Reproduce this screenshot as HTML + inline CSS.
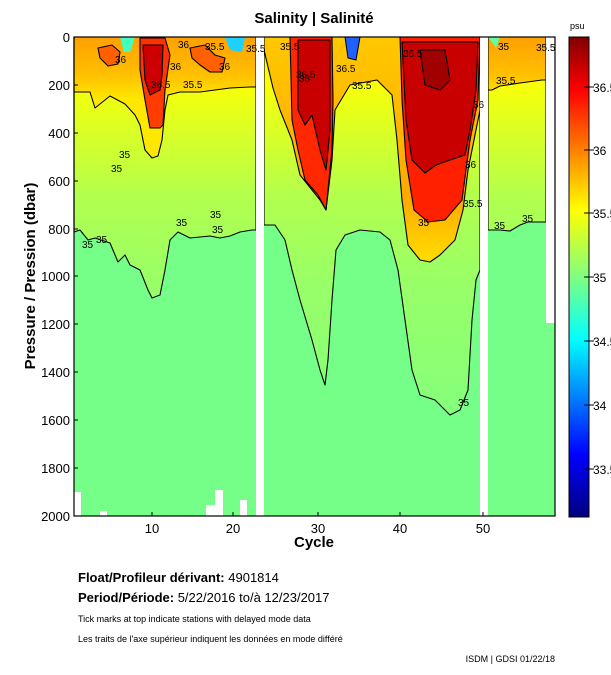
<!DOCTYPE html>
<html><head><meta charset="utf-8"><style>
body{margin:0;background:#fff;}
svg{display:block;font-family:"Liberation Sans",sans-serif;}
</style></head><body>
<svg width="611" height="675" viewBox="0 0 611 675" xmlns="http://www.w3.org/2000/svg">
<defs>
<linearGradient id="g35" gradientUnits="userSpaceOnUse" x1="0" y1="85" x2="0" y2="420">
<stop offset="0" stop-color="#f8ff08"/><stop offset="0.15" stop-color="#d8ff28"/><stop offset="0.35" stop-color="#b0ff50"/><stop offset="0.6" stop-color="#98ff68"/><stop offset="1" stop-color="#84ff7c"/></linearGradient>
<linearGradient id="g355" gradientUnits="userSpaceOnUse" x1="0" y1="37" x2="0" y2="100">
<stop offset="0" stop-color="#ffa000"/><stop offset="0.6" stop-color="#ffc000"/><stop offset="1" stop-color="#ffe800"/></linearGradient>
<linearGradient id="g355b" gradientUnits="userSpaceOnUse" x1="0" y1="37" x2="0" y2="265">
<stop offset="0" stop-color="#ffc800"/><stop offset="0.7" stop-color="#ffa800"/><stop offset="1" stop-color="#ffe000"/></linearGradient>
<linearGradient id="g36" gradientUnits="userSpaceOnUse" x1="0" y1="37" x2="0" y2="222">
<stop offset="0" stop-color="#ff3000"/><stop offset="1" stop-color="#ff5000"/></linearGradient>
<linearGradient id="bar" x1="0" y1="0" x2="0" y2="1">
<stop offset="0" stop-color="#800000"/><stop offset="0.11" stop-color="#ff0000"/><stop offset="0.36" stop-color="#ffff00"/><stop offset="0.5" stop-color="#80ff80"/><stop offset="0.63" stop-color="#00ffff"/><stop offset="0.87" stop-color="#0000ff"/><stop offset="1" stop-color="#000080"/></linearGradient>
</defs>
<text x="314" y="23" font-size="15" font-weight="bold" text-anchor="middle">Salinity | Salinité</text>
<rect x="74" y="37" width="481" height="479" fill="#76ff88"/>
<g stroke="#000" stroke-width="1.1" stroke-linejoin="round">
<polygon fill="url(#g35)" points="74,37 256,37 256,230 252,230 240,232 230,236 220,238 210,236 190,238 178,232 170,240 165,270 160,295 152,298 148,290 140,270 130,265 125,255 118,262 110,243 95,238 88,240 80,230 74,232"/>
<polygon fill="url(#g355)" points="74,37 256,37 256,87 250,87 230,88 215,90 200,92 180,92 168,95 165,110 162,140 158,156 152,158 145,150 140,125 135,115 125,104 110,96 95,108 90,92 74,92"/>
<polygon fill="url(#g36)" points="140,38 165,38 170,55 165,90 163,125 160,128 150,128 145,100 140,70"/>
<polygon fill="#cc0000" points="143,45 163,45 162,75 160,90 150,95 145,80"/>
<polygon fill="#ff6000" points="98,48 112,45 120,52 118,64 108,66 100,58"/>
<polygon fill="#ff6000" points="190,48 205,45 215,55 225,58 222,72 210,72 200,65 192,58"/>
<polygon fill="url(#g35)" points="264,37 480,37 480,270 476,280 472,320 468,390 460,410 450,415 435,400 420,395 412,370 405,320 398,270 390,240 380,232 360,230 345,235 336,250 332,300 328,360 325,385 320,370 312,340 300,300 292,270 285,240 275,225 264,225"/>
<polygon fill="url(#g355b)" points="264,37 480,37 480,110 474,140 468,170 463,210 455,240 440,255 430,262 420,260 408,245 402,200 397,140 392,95 377,80 350,85 335,110 332,160 326,210 320,200 300,175 292,140 280,110 273,88 264,50"/>
<polygon fill="#ff2800" points="290,37 332,37 333,100 332,150 328,190 326,210 318,195 305,180 298,150 292,120"/>
<polygon fill="#ff2000" points="400,37 480,37 478,100 470,140 462,200 445,220 428,222 414,210 406,160 402,100"/>
<polygon fill="#c80000" points="298,40 330,40 330,130 326,170 320,150 312,115 305,125 298,110"/>
<polygon fill="#c80000" points="402,42 478,42 476,90 470,130 465,155 450,160 436,165 425,173 412,160 406,120 404,80"/>
<polygon fill="#a00000" points="420,50 445,50 450,80 440,90 425,85"/>
<polygon fill="url(#g35)" points="488,37 546,37 546,222 540,222 528,222 520,225 510,231 500,230 490,230 488,230"/>
<polygon fill="url(#g355)" points="488,37 546,37 546,80 542,80 520,83 500,86 492,90 488,90"/>
</g>
<polygon points="120,37 135,37 130,52 124,52" fill="#40ffc0"/>
<polygon points="225,37 245,37 242,52 230,50" fill="#20d0ff"/>
<polygon points="345,37 360,37 356,60 348,58" fill="#2060ff" stroke="#000" stroke-width="1"/>
<polygon points="488,37 500,37 496,48" fill="#60ffa0"/>
<rect x="256" y="37" width="8" height="479" fill="#fff"/>
<rect x="480" y="37" width="8" height="479" fill="#fff"/>
<rect x="546" y="37" width="9" height="286" fill="#fff"/>
<rect x="74" y="492" width="7" height="24" fill="#fff"/>
<rect x="100" y="511" width="7" height="5" fill="#fff"/>
<rect x="206" y="505" width="9" height="11" fill="#fff"/>
<rect x="215" y="490" width="8" height="26" fill="#fff"/>
<rect x="240" y="500" width="7" height="16" fill="#fff"/>
<g font-size="10" fill="#000">
<text x="115" y="63">36</text><text x="151" y="88">36.5</text><text x="170" y="70">36</text><text x="183" y="88">35.5</text>
<text x="205" y="50">35.5</text><text x="246" y="52">35.5</text><text x="219" y="70">36</text><text x="178" y="48">36</text>
<text x="119" y="158">35</text><text x="111" y="172">35</text><text x="82" y="248">35</text><text x="96" y="243">35</text>
<text x="176" y="226">35</text><text x="210" y="218">35</text><text x="212" y="233">35</text>
<text x="296" y="78">36.5</text><text x="299" y="82">36</text><text x="336" y="72">36.5</text><text x="352" y="89">35.5</text>
<text x="403" y="57">36.5</text><text x="473" y="108">36</text><text x="465" y="168">36</text><text x="463" y="207">35.5</text>
<text x="458" y="406">35</text><text x="418" y="226">35</text><text x="498" y="50">35</text><text x="536" y="51">35.5</text>
<text x="496" y="84">35.5</text><text x="494" y="229">35</text><text x="522" y="222">35</text><text x="280" y="50">35.5</text>
</g>
<rect x="74" y="37" width="481" height="479" fill="none" stroke="#000" stroke-width="1.2"/>
<g stroke="#000" stroke-width="1">
<line x1="74" y1="85" x2="78" y2="85"/><line x1="74" y1="133" x2="78" y2="133"/><line x1="74" y1="181" x2="78" y2="181"/><line x1="74" y1="229" x2="78" y2="229"/><line x1="74" y1="276" x2="78" y2="276"/><line x1="74" y1="324" x2="78" y2="324"/><line x1="74" y1="372" x2="78" y2="372"/><line x1="74" y1="420" x2="78" y2="420"/><line x1="74" y1="468" x2="78" y2="468"/>
<line x1="152" y1="516" x2="152" y2="512"/><line x1="233" y1="516" x2="233" y2="512"/><line x1="318" y1="516" x2="318" y2="512"/><line x1="400" y1="516" x2="400" y2="512"/><line x1="483" y1="516" x2="483" y2="512"/>
</g>
<g font-size="13" text-anchor="end">
<text x="70" y="42">0</text><text x="70" y="90">200</text><text x="70" y="138">400</text><text x="70" y="186">600</text><text x="70" y="234">800</text><text x="70" y="281">1000</text><text x="70" y="329">1200</text><text x="70" y="377">1400</text><text x="70" y="425">1600</text><text x="70" y="473">1800</text><text x="70" y="521">2000</text>
</g>
<g font-size="13" text-anchor="middle">
<text x="152" y="533">10</text><text x="233" y="533">20</text><text x="318" y="533">30</text><text x="400" y="533">40</text><text x="483" y="533">50</text>
</g>
<text x="314" y="547" font-size="15" font-weight="bold" text-anchor="middle">Cycle</text>
<text transform="translate(35,276) rotate(-90)" font-size="15" font-weight="bold" text-anchor="middle">Pressure / Pression (dbar)</text>
<text x="570" y="29" font-size="9">psu</text>
<rect x="569" y="37" width="20" height="480" fill="url(#bar)" stroke="#000" stroke-width="1"/>
<g stroke="#000"><line x1="584" y1="87" x2="594" y2="87"/><line x1="584" y1="150" x2="594" y2="150"/><line x1="584" y1="213" x2="594" y2="213"/><line x1="584" y1="277" x2="594" y2="277"/><line x1="584" y1="341" x2="594" y2="341"/><line x1="584" y1="405" x2="594" y2="405"/><line x1="584" y1="469" x2="594" y2="469"/></g>
<g font-size="12"><text x="593" y="92">36.5</text><text x="593" y="155">36</text><text x="593" y="218">35.5</text><text x="593" y="282">35</text><text x="593" y="346">34.5</text><text x="593" y="410">34</text><text x="593" y="474">33.5</text></g>
<text x="78" y="582" font-size="13"><tspan font-weight="bold">Float/Profileur dérivant:</tspan> 4901814</text>
<text x="78" y="602" font-size="13"><tspan font-weight="bold">Period/Période:</tspan> 5/22/2016  to/à  12/23/2017</text>
<text x="78" y="622" font-size="9">Tick marks at top indicate stations with delayed mode data</text>
<text x="78" y="642" font-size="9">Les traits de l'axe supérieur indiquent les données en mode différé</text>
<text x="555" y="662" font-size="9" text-anchor="end">ISDM | GDSI  01/22/18</text>
</svg>
</body></html>
